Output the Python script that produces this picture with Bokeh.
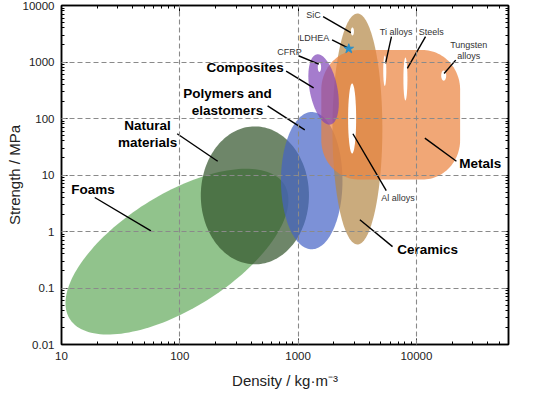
import numpy as np
from bokeh.plotting import figure
from bokeh.models import Range1d, LogAxis, FixedTicker, ColumnDataSource
from bokeh.embed import file_html
from bokeh.resources import INLINE
from bokeh.core.properties import value

FONT = "Liberation Sans"

# ---------------- axes ----------------
x_ticks = [10, 100, 1000, 10000]
x_labels = ["10", "100", "1000", "10000"]
y_ticks = [0.01, 0.1, 1, 10, 100, 1000, 10000]
y_labels = ["0.01", "0.1", "1", "10", "100", "1000", "10000"]
X_MIN, X_MAX = 10, 60000
Y_MIN, Y_MAX = 0.01, 10000
x_title = "Density / kg·m⁻³"
y_title = "Strength / MPa"

# ---------------- material families (ellipses in log-log space) ----------------
fam_names = ["Foams", "Natural materials", "Polymers and elastomers", "Ceramics", "Composites"]
fam_density = [94.6, 431, 1303, 3170, 1641]        # centre, kg/m3
fam_strength = [0.44, 4.36, 7.94, 65.2, 326]       # centre, MPa
fam_a = [1.07, 0.457, 0.26, 0.211, 0.302]          # semi-axis (density decades)
fam_b = [0.483, 0.583, 0.580, 0.976, 0.117]        # semi-axis (density-decade equivalent)
fam_angle = [32.1, 0, 0, 0, 101.1]                 # degrees
fam_color = ["#62A95B", "#305329", "#4562C6", "#B48746", "#7F45B8"]

# metals: rounded box
metal_density = [1570, 23400]
metal_strength = [8.3, 1630]
metal_corner = [0.32, 0.70]   # corner radius (decades density, decades strength)
metal_color = "#EB823C"

# white "holes" for sub-classes
hole_names = ["SiC", "CFRP", "Al alloys", "Ti alloys", "Steels", "Tungsten alloys"]
hole_density = [2877, 1514, 2860, 5400, 8070, 17000]
hole_strength = [3470, 809, 100, 700, 500, 575]
hole_rx = [0.013, 0.014, 0.034, 0.013, 0.017, 0.021]
hole_ry = [0.071, 0.083, 0.62, 0.27, 0.38, 0.09]

# LDHEA point
ldhea_density = [2680]
ldhea_strength = [1715]

# ---------------- labels ----------------
big_text = ["Foams", "Natural\nmaterials", "Polymers and\nelastomers", "Composites", "Metals", "Ceramics"]
big_density = [18.5, 53.4, 253, 357, 34670, 12450]
big_strength = [5.65, 53, 194, 800, 15.7, 0.484]

small_text = ["CFRP", "LDHEA", "SiC", "Ti alloys", "Steels", "Tungsten\nalloys", "Al alloys"]
small_density = [845, 1368, 1352, 6730, 13340, 27670, 6970]
small_strength = [1500, 2650, 6820, 3450, 3450, 1585, 3.86]

lead_x0 = [19.1, 95, 552, 792, 1007, 1936, 1626, 6150, 11940, 21470, 21780, 5560, 6280]
lead_y0 = [4.0, 53.7, 167, 689, 1291, 2470, 6370, 2813, 2813, 1081, 17.5, 5.27, 0.54]
lead_x1 = [57, 209, 1138, 1352, 1496, 2640, 2790, 5480, 8380, 17140, 11780, 2904, 3326]
lead_y1 = [1.03, 17.5, 63, 348, 918, 1780, 3300, 944, 769, 627, 45, 53.7, 1.61]

FRAME_W, FRAME_H = 447, 339
VIS = (FRAME_H / np.log10(Y_MAX / Y_MIN)) / (FRAME_W / np.log10(X_MAX / X_MIN))


def ellipse(cx, cy, a, b, ang, n=160):
    t = np.linspace(0, 2 * np.pi, n)
    th = np.radians(ang)
    u = a * np.cos(t) * np.cos(th) - b * np.sin(t) * np.sin(th)
    v = a * np.cos(t) * np.sin(th) + b * np.sin(t) * np.cos(th)
    return 10 ** (np.log10(cx) + u), 10 ** (np.log10(cy) + v / VIS)


def rounded_box(xr, yr, rad, n=30):
    x0, x1 = np.log10(xr)
    y0, y1 = np.log10(yr)
    rx, ry = rad
    xs, ys = [], []
    for cx, cy, a0, a1 in [(x1 - rx, y1 - ry, 0, 90), (x0 + rx, y1 - ry, 90, 180),
                           (x0 + rx, y0 + ry, 180, 270), (x1 - rx, y0 + ry, 270, 360)]:
        t = np.radians(np.linspace(a0, a1, n))
        xs.extend(cx + rx * np.cos(t))
        ys.extend(cy + ry * np.sin(t))
    return 10 ** np.array(xs), 10 ** np.array(ys)


p = figure(width=550, height=393, x_axis_type="log", y_axis_type="log",
           x_range=Range1d(X_MIN, X_MAX), y_range=Range1d(Y_MIN, Y_MAX),
           output_backend="svg", toolbar_location=None,
           min_border_left=61, min_border_right=42, min_border_top=5, min_border_bottom=49)
p.background_fill_color = "white"
p.border_fill_color = "white"
p.outline_line_color = "black"
p.outline_line_width = 1.5

x_minor = [m * 10 ** k for k in range(1, 5) for m in range(2, 10) if m * 10 ** k < X_MAX]
y_minor = [m * 10.0 ** k for k in range(-2, 4) for m in range(2, 10)]

for ax, ticks, minor, labels, title in [(p.xaxis[0], x_ticks, x_minor, x_labels, x_title),
                                        (p.yaxis[0], y_ticks, y_minor, y_labels, y_title)]:
    ax.ticker = FixedTicker(ticks=ticks, minor_ticks=minor)
    ax.major_label_overrides = dict(zip(ticks, labels))
    ax.major_label_text_font = FONT
    ax.major_label_text_font_size = "11.5px"
    ax.major_label_text_color = "#222222"
    ax.major_label_standoff = 7
    ax.axis_label = title
    ax.axis_label_text_font = FONT
    ax.axis_label_text_font_size = "15px"
    ax.axis_label_text_font_style = "normal"
    ax.axis_label_text_color = "#222222"
p.xaxis[0].axis_label_standoff = 9
p.yaxis[0].axis_label_standoff = -3

for side, ticks, minor in [("above", x_ticks, x_minor), ("right", y_ticks, y_minor)]:
    ax = LogAxis(ticker=FixedTicker(ticks=ticks, minor_ticks=minor),
                 major_label_text_font_size="1px", major_label_text_alpha=0.0,
                 major_label_standoff=0)
    p.add_layout(ax, side)

for ax in p.axis:
    ax.axis_line_color = "black"
    ax.axis_line_width = 1.5
    ax.major_tick_line_color = "black"
    ax.minor_tick_line_color = "black"
    ax.major_tick_in = 6
    ax.major_tick_out = 0
    ax.minor_tick_in = 3
    ax.minor_tick_out = 0

for g in (p.xgrid[0], p.ygrid[0]):
    g.grid_line_color = "#8a8a8a"
    g.grid_line_dash = "5 3"
    g.grid_line_width = 1.1
    g.level = "guide"
p.xgrid[0].ticker = FixedTicker(ticks=x_ticks)
p.ygrid[0].ticker = FixedTicker(ticks=y_ticks)

ALPHA = 0.7
shapes = {}
for i in range(len(fam_names)):
    shapes[fam_names[i]] = ellipse(fam_density[i], fam_strength[i], fam_a[i], fam_b[i], fam_angle[i])

order = ["Foams", "Natural materials", "Polymers and elastomers", "Ceramics", "METALS", "Composites"]
for name in order:
    if name == "METALS":
        xs, ys = rounded_box(metal_density, metal_strength, metal_corner)
        p.patch(xs, ys, fill_color=metal_color, fill_alpha=ALPHA, line_color=None)
    else:
        i = fam_names.index(name)
        xs, ys = shapes[name]
        p.patch(xs, ys, fill_color=fam_color[i], fill_alpha=ALPHA, line_color=None)

for i in range(len(hole_names)):
    xs, ys = ellipse(hole_density[i], hole_strength[i], hole_rx[i], hole_ry[i] * VIS, 0, n=60)
    p.patch(xs, ys, fill_color="white", fill_alpha=1.0, line_color=None)

p.segment(x0=lead_x0, y0=lead_y0, x1=lead_x1, y1=lead_y1, line_color="black", line_width=1.4)

p.scatter(ldhea_density, ldhea_strength, marker="star", size=10,
          fill_color="#2a8fc8", line_color="#2a8fc8")

p.text(x=big_density, y=big_strength, text=big_text, text_font=value(FONT),
       text_font_style="bold", text_font_size="13.5px", text_align="center",
       text_baseline="middle", text_color="black", text_line_height=1.15)
p.text(x=small_density, y=small_strength, text=small_text, text_font=value(FONT),
       text_font_size="9px", text_align="center", text_baseline="middle",
       text_color="#333333", text_line_height=1.15)

open("out.html", "w").write(file_html(p, INLINE))
